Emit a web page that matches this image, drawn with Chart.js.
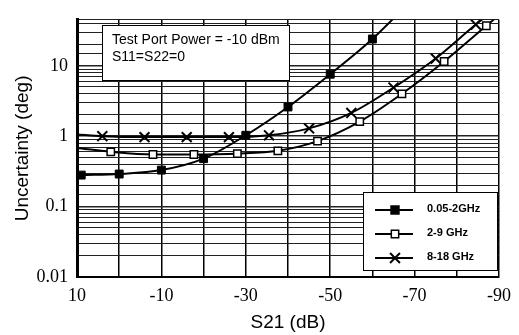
<!DOCTYPE html>
<html><head><meta charset="utf-8">
<script src="https://cdn.jsdelivr.net/npm/chart.js@4/dist/chart.umd.min.js"></script>
<style>html,body{margin:0;padding:0;background:#fff}#wrap{width:519px;height:335px;position:relative}</style>
</head><body><div id="wrap"><canvas id="c" width="519" height="335"></canvas></div>
<script>
// ---- data ----
const xTickLabels = [10, -10, -30, -50, -70, -90];
const yTickValues = [10, 1, 0.1, 0.01];
const yTickLabels = ['10', '1', '0.1', '0.01'];

const s1Label = '0.05-2GHz';
const s1X = [9, 0, -10, -20, -30, -40, -50, -60, -70];
const s1Y = [0.28, 0.29, 0.33, 0.48, 1.03, 2.6, 7.6, 24, 95];

const s2Label = '2-9 GHz';
const s2X = [10, 2, -8, -17.7, -28, -37.6, -47, -57, -67, -77, -87, -90];
const s2Y = [0.68, 0.60, 0.55, 0.55, 0.565, 0.62, 0.85, 1.61, 4.0, 11.5, 37, 52];

const s3Label = '8-18 GHz';
const s3X = [10, 4, -6, -16, -26, -35.5, -45, -55, -65, -75, -84.5, -90];
const s3Y = [1.06, 1.0, 0.97, 0.97, 0.97, 1.03, 1.29, 2.14, 4.9, 12.7, 38.6, 70];

const noteLines = ['Test Port Power = -10 dBm', 'S11=S22=0'];

// ---- build ----
const pts = (xs, ys) => xs.map((x, i) => ({x, y: ys[i]}));
function radii(n, r, hideFirst, hideLast) {
  return Array.from({length: n}, (_, i) => ((hideFirst && i === 0) || (hideLast && i === n - 1)) ? 0 : r);
}

function drawMarker(ctx, style, x, y, r, fill) {
  ctx.save();
  ctx.strokeStyle = '#000';
  ctx.fillStyle = fill;
  if (style === 'rect') {
    const s = r * Math.SQRT1_2;
    ctx.lineWidth = 1.5;
    ctx.beginPath(); ctx.rect(x - s, y - s, 2 * s, 2 * s); ctx.fill(); ctx.stroke();
  } else {
    const s = r * Math.SQRT1_2;
    ctx.lineWidth = 2;
    ctx.beginPath();
    ctx.moveTo(x - s, y - s); ctx.lineTo(x + s, y + s);
    ctx.moveTo(x + s, y - s); ctx.lineTo(x - s, y + s);
    ctx.stroke();
  }
  ctx.restore();
}

const overlay = {
  id: 'overlay',
  afterDraw(chart) {
    const ctx = chart.ctx;
    // note box
    ctx.save();
    ctx.fillStyle = '#fff'; ctx.strokeStyle = '#000'; ctx.lineWidth = 1;
    ctx.fillRect(102, 25, 187, 55); ctx.strokeRect(102.5, 25.5, 187, 55);
    ctx.fillStyle = '#000';
    ctx.font = '14px "Liberation Sans", Arial, sans-serif';
    ctx.textBaseline = 'middle';
    ctx.fillText(noteLines[0], 112, 40);
    ctx.fillText(noteLines[1], 112, 57);
    // legend box
    ctx.fillStyle = '#fff';
    ctx.fillRect(363, 192, 134, 78); ctx.strokeRect(363.5, 192.5, 134, 78);
    const rows = [210, 234, 258];
    ctx.font = 'bold 11px "Liberation Sans", Arial, sans-serif';
    chart.data.datasets.forEach((ds, i) => {
      const y = rows[i];
      ctx.strokeStyle = '#000'; ctx.lineWidth = 2;
      ctx.beginPath(); ctx.moveTo(375, y); ctx.lineTo(413, y); ctx.stroke();
      drawMarker(ctx, ds.pointStyle, 395, y, ds.legendR, ds.pointBackgroundColor);
      ctx.fillStyle = '#000';
      ctx.fillText(ds.label, 427, y - 1);
    });
    ctx.restore();
  }
};

new Chart(document.getElementById('c'), {
  type: 'line',
  data: {
    datasets: [
      { label: s1Label, data: pts(s1X, s1Y), borderColor: '#000', borderWidth: 2,
        pointStyle: 'rect', pointRadius: radii(s1X.length, 5.6, false, true), pointHoverRadius: 0,
        pointBackgroundColor: '#000', pointBorderColor: '#000', pointBorderWidth: 1,
        cubicInterpolationMode: 'monotone', legendR: 5.6 },
      { label: s2Label, data: pts(s2X, s2Y), borderColor: '#000', borderWidth: 2,
        pointStyle: 'rect', pointRadius: radii(s2X.length, 5.2, true, true), pointHoverRadius: 0,
        pointBackgroundColor: '#fff', pointBorderColor: '#000', pointBorderWidth: 1.5,
        cubicInterpolationMode: 'monotone', legendR: 5.2 },
      { label: s3Label, data: pts(s3X, s3Y), borderColor: '#000', borderWidth: 2,
        pointStyle: 'crossRot', pointRadius: radii(s3X.length, 7, true, true), pointHoverRadius: 0,
        pointBackgroundColor: '#000', pointBorderColor: '#000', pointBorderWidth: 2,
        cubicInterpolationMode: 'monotone', legendR: 7 }
    ]
  },
  options: {
    responsive: false, animation: false, devicePixelRatio: 1,
    layout: { padding: { left: 0, right: 14, top: 12, bottom: 0 } },
    plugins: { legend: { display: false }, tooltip: { enabled: false } },
    scales: {
      x: {
        type: 'linear', min: -90, max: 10, reverse: true,
        afterFit: s => { s.height = 58; },
        ticks: { stepSize: 10, autoSkip: false, maxRotation: 0, padding: 8, color: '#000',
          font: { family: '"Liberation Serif", "Times New Roman", serif', size: 18 },
          callback: v => xTickLabels.includes(v) ? String(v) : '' },
        grid: { drawTicks: false, color: '#000', lineWidth: 1.5 },
        border: { display: true, color: '#000', width: 2 },
        title: { display: true, text: 'S21 (dB)', color: '#000',
          font: { family: '"Liberation Sans", Arial, sans-serif', size: 19 },
          padding: { top: 0, bottom: 1 } }
      },
      y: {
        type: 'logarithmic', min: 0.01, max: 45,
        afterFit: s => { s.width = 77; },
        ticks: { autoSkip: false, padding: 9, color: '#000',
          font: { family: '"Liberation Serif", "Times New Roman", serif', size: 18 },
          callback: v => {
            const k = yTickValues.findIndex(t => Math.abs(t - v) < t * 1e-6);
            return k >= 0 ? yTickLabels[k] : '';
          } },
        grid: { drawTicks: false, color: '#222',
          lineWidth: c => {
            const v = c.tick ? c.tick.value : 0;
            return yTickValues.some(t => Math.abs(t - v) < t * 1e-6) ? 1.6 : 1;
          } },
        border: { display: true, color: '#000', width: 3 },
        title: { display: true, text: 'Uncertainty (deg)', color: '#000',
          font: { family: '"Liberation Sans", Arial, sans-serif', size: 19 },
          padding: { top: 11, bottom: 0 } }
      }
    }
  },
  plugins: [overlay]
});
</script></body></html>
